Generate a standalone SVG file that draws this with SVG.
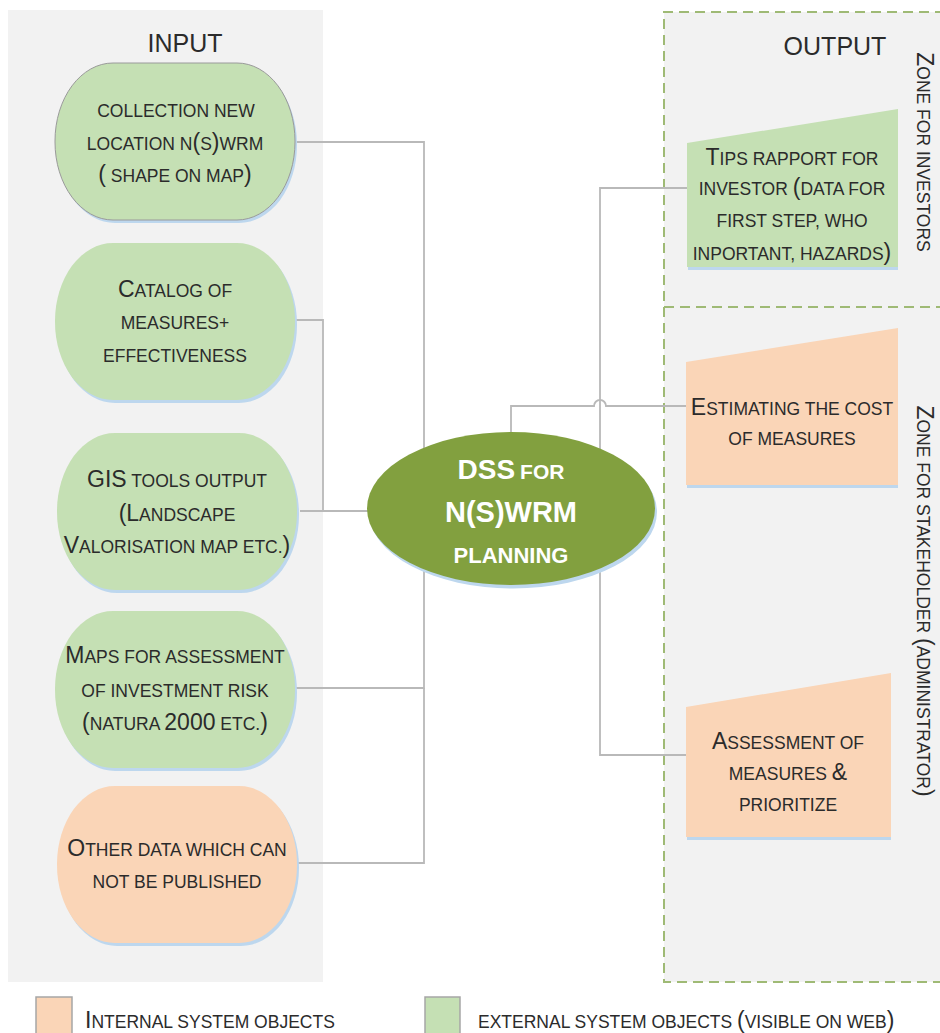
<svg xmlns="http://www.w3.org/2000/svg" width="940" height="1033" viewBox="0 0 940 1033">
<style>
text{font-family:"Liberation Sans",Arial,sans-serif;fill:#2b2b2b;font-size:17.5px;text-anchor:middle}
.b{font-size:23px}
.title{font-size:25px}
.w{fill:#ffffff;font-weight:bold}
.w28{font-size:28px}
.w29{font-size:29px}
.w22{font-size:22px}
.w21{font-size:21px}
.green{fill:#c5e0b4}
.peach{fill:#fad5b7}
.shadow{fill:#bdd7ee}
.conn{fill:none;stroke:#b9b9b9;stroke-width:1.8}
.dash{fill:none;stroke:#9fba75;stroke-width:2;stroke-dasharray:10 6}
</style>
<defs>
<rect id="pill" x="0" y="0" width="240" height="157" rx="58" ry="78"/>
</defs>
<g id="input-panel">
<rect x="8" y="10" width="315" height="972" fill="#f2f2f2"/>
<text class="title" x="185" y="52">INPUT</text>
</g>
<g id="output-panel">
<rect x="664" y="12" width="290" height="970" fill="#f2f2f2"/>
<path class="dash" d="M945,12 H664 V982 H945"/>
<path class="dash" d="M664,307 H945"/>
<text class="title" x="835" y="55">OUTPUT</text>
<text transform="translate(917,152) rotate(90)" x="0" y="0"><tspan class="b">Z</tspan>ONE FOR INVESTORS</text>
<text transform="translate(917,601) rotate(90)" x="0" y="0"><tspan class="b">Z</tspan>ONE FOR STAKEHOLDER <tspan class="b">(</tspan>ADMINISTRATOR<tspan class="b">)</tspan></text>
</g>
<g id="connectors">
<path class="conn" d="M295,142 H424 V470"/>
<path class="conn" d="M295,688 H424 V550"/>
<path class="conn" d="M297,863 H424 V688"/>
<path class="conn" d="M293,320 H323 V511 H370"/>
<path class="conn" d="M300,511 H370"/>
<path class="conn" d="M600,470 V188 H687"/>
<path class="conn" d="M511,440 V406 H594 A6,6 0 0 1 606,406 H686"/>
<path class="conn" d="M600,550 V755 H686"/>
</g>
<g id="n-collection">
<use href="#pill" x="57" y="66" class="shadow"/>
<use href="#pill" x="55" y="63" class="green" stroke="#9a9a9a" stroke-width="1"/>
<text x="176" y="117">COLLECTION NEW</text>
<text x="175" y="150">LOCATION N<tspan class="b">(</tspan>S<tspan class="b">)</tspan>WRM</text>
<text x="175" y="182"><tspan class="b">(</tspan> SHAPE ON MAP<tspan class="b">)</tspan></text>
</g>
<g id="n-catalog">
<use href="#pill" x="57" y="246" class="shadow"/>
<use href="#pill" x="55" y="243" class="green"/>
<text x="175" y="297"><tspan class="b">C</tspan>ATALOG OF</text>
<text x="175" y="329">MEASURES+</text>
<text x="175" y="362">EFFECTIVENESS</text>
</g>
<g id="n-gis">
<use href="#pill" x="59" y="436" class="shadow"/>
<use href="#pill" x="57" y="433" class="green"/>
<text x="177" y="487"><tspan class="b">GIS</tspan> TOOLS OUTPUT</text>
<text x="177" y="521"><tspan class="b">(L</tspan>ANDSCAPE</text>
<text x="177" y="553"><tspan class="b">V</tspan>ALORISATION MAP ETC.<tspan class="b">)</tspan></text>
</g>
<g id="n-maps">
<use href="#pill" x="57" y="614" class="shadow"/>
<use href="#pill" x="55" y="611" class="green"/>
<text x="175" y="663"><tspan class="b">M</tspan>APS FOR ASSESSMENT</text>
<text x="175" y="697">OF INVESTMENT RISK</text>
<text x="175" y="730"><tspan class="b">(</tspan>NATURA <tspan class="b">2000</tspan> ETC.<tspan class="b">)</tspan></text>
</g>
<g id="n-other">
<use href="#pill" x="59" y="789" class="shadow"/>
<use href="#pill" x="57" y="786" class="peach"/>
<text x="177" y="856"><tspan class="b">O</tspan>THER DATA WHICH CAN</text>
<text x="177" y="888">NOT BE PUBLISHED</text>
</g>
<g id="n-dss">
<ellipse cx="513" cy="512" rx="144" ry="76.5" class="shadow"/>
<ellipse cx="511" cy="508.5" rx="144" ry="76.5" fill="#82a03f"/>
<text class="w" x="511" y="479"><tspan class="w28">DSS</tspan> <tspan class="w21">FOR</tspan></text>
<text class="w w29" x="511" y="522">N(S)WRM</text>
<text class="w w22" x="511" y="563">PLANNING</text>
</g>
<g id="n-tips">
<polygon points="688,146 898,112 898,270 688,270" class="shadow"/>
<polygon points="687,143 898,109 898,267 687,267" class="green"/>
<text x="792" y="165"><tspan class="b">T</tspan>IPS RAPPORT FOR</text>
<text x="792" y="195">INVESTOR <tspan class="b">(</tspan>DATA FOR</text>
<text x="792" y="227">FIRST STEP, WHO</text>
<text x="792" y="260">INPORTANT, HAZARDS<tspan class="b">)</tspan></text>
</g>
<g id="n-estimating">
<polygon points="687,365 898,331 898,488 687,488" class="shadow"/>
<polygon points="686,362 898,328 898,485 686,485" class="peach"/>
<text x="792" y="415"><tspan class="b">E</tspan>STIMATING THE COST</text>
<text x="792" y="445">OF MEASURES</text>
</g>
<g id="n-assessment">
<polygon points="687,710 891,676 891,840 687,840" class="shadow"/>
<polygon points="686,707 891,673 891,837 686,837" class="peach"/>
<text x="788" y="749"><tspan class="b">A</tspan>SSESSMENT OF</text>
<text x="788" y="780">MEASURES <tspan class="b">&amp;</tspan></text>
<text x="788" y="811">PRIORITIZE</text>
</g>
<g id="legend">
<rect x="36" y="997" width="36" height="40" class="peach" stroke="#a6a6a6" stroke-width="1.5"/>
<text x="85" y="1028" style="text-anchor:start"><tspan class="b">I</tspan>NTERNAL SYSTEM OBJECTS</text>
<rect x="425" y="997" width="35" height="40" class="green" stroke="#a6a6a6" stroke-width="1.5"/>
<text x="478" y="1028" style="text-anchor:start">EXTERNAL SYSTEM OBJECTS <tspan class="b">(</tspan>VISIBLE ON WEB<tspan class="b">)</tspan></text>
</g>
</svg>
